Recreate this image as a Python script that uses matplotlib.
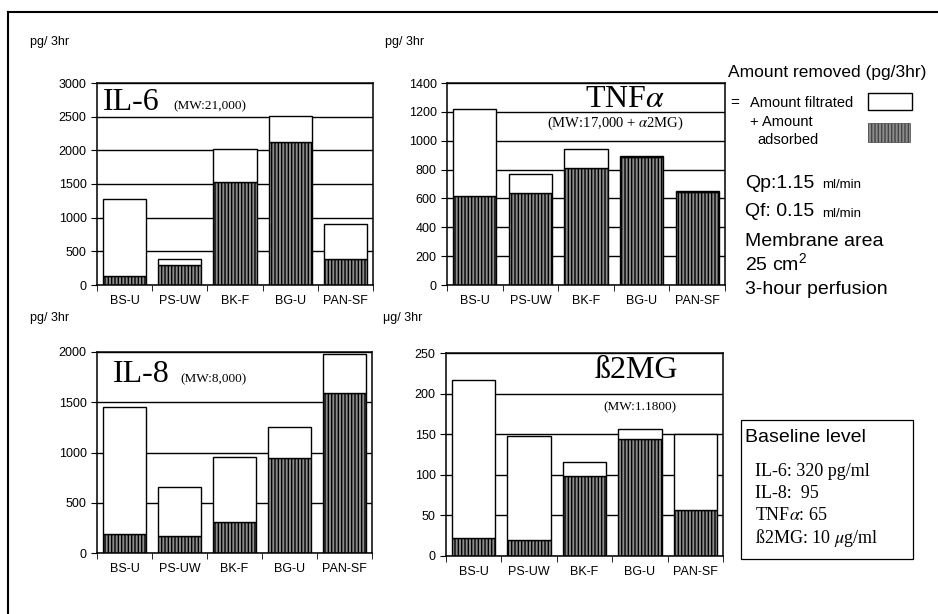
import matplotlib
matplotlib.use("Agg")
import matplotlib.pyplot as plt
from matplotlib.patches import Rectangle
from matplotlib.lines import Line2D

plt.rcParams['font.family'] = ['Liberation Sans', 'DejaVu Sans']
plt.rcParams['mathtext.fontset'] = 'stix'
plt.rcParams['hatch.color'] = '#1a1a1a'
plt.rcParams['hatch.linewidth'] = 1.0

# membranes
membranes = ['BS-U', 'PS-UW', 'BK-F', 'BG-U', 'PAN-SF']

# amount removed (total) and amount adsorbed
il6_total = [1280, 390, 2020, 2510, 900]
il6_adsorbed = [130, 290, 1530, 2120, 380]
tnf_total = [1220, 770, 945, 895, 650]
tnf_adsorbed = [615, 640, 810, 885, 645]
il8_total = [1450, 660, 955, 1250, 1980]
il8_adsorbed = [190, 170, 310, 950, 1590]
b2mg_total = [217, 148, 116, 156, 150]
b2mg_adsorbed = [22, 20, 99, 144, 57]

W, H = 938, 614
fig = plt.figure(figsize=(W / 100, H / 100), dpi=100)

HATCH_FC = '#8c8c8c'


def px(x, y):
    # pixel position -> figure fraction
    return x / W, 1 - y / H


def make_ax(x0, y0, x1, y1):
    return fig.add_axes([x0 / W, 1 - y1 / H, (x1 - x0) / W, (y1 - y0) / H])


def draw_panel(ax, total, adsorbed, ymax, step):
    xs = range(len(membranes))
    filtrated = [t - a for t, a in zip(total, adsorbed)]
    ax.bar(xs, adsorbed, width=0.78, color=HATCH_FC, edgecolor='black',
           hatch='|||||', linewidth=1, zorder=2)
    ax.bar(xs, filtrated, bottom=adsorbed, width=0.78, color='white',
           edgecolor='black', linewidth=1, zorder=2)
    ax.set_xlim(-0.5, len(membranes) - 0.5)
    ax.set_ylim(0, ymax)
    ax.set_yticks(range(0, ymax + 1, step))
    ax.yaxis.grid(True, color='black', linewidth=1)
    ax.set_axisbelow(True)
    ax.set_xticks(list(xs))
    ax.set_xticklabels(membranes, fontsize=9)
    ax.set_xticks([i - 0.5 for i in range(len(membranes) + 1)], minor=True)
    ax.tick_params(axis='x', which='major', length=0, pad=7)
    ax.tick_params(axis='x', which='minor', length=4, direction='out')
    ax.tick_params(axis='y', labelsize=9, length=4, direction='out')
    for s in ax.spines.values():
        s.set_linewidth(1.1)


ax1 = make_ax(97, 83, 373, 285)
draw_panel(ax1, il6_total, il6_adsorbed, 3000, 500)
ax1.text(0.022, 0.868, 'IL-6', family='Liberation Serif', fontsize=23,
         transform=ax1.transAxes, va='baseline')
ax1.text(0.275, 0.868, '(MW:21,000)', family='Liberation Serif', fontsize=9.5,
         transform=ax1.transAxes, va='baseline')

ax2 = make_ax(447, 83, 725, 285)
draw_panel(ax2, tnf_total, tnf_adsorbed, 1400, 200)
ax2.text(0.64, 0.881, r'TNF$\alpha$', family='Liberation Serif', fontsize=23,
         transform=ax2.transAxes, va='baseline', ha='center')
ax2.text(0.604, 0.782, r'(MW:17,000 + $\alpha$2MG)', family='Liberation Serif',
         fontsize=10.5, transform=ax2.transAxes, va='baseline', ha='center')

ax3 = make_ax(97, 352, 372, 553)
draw_panel(ax3, il8_total, il8_adsorbed, 2000, 500)
ax3.text(0.058, 0.851, 'IL-8', family='Liberation Serif', fontsize=23,
         transform=ax3.transAxes, va='baseline')
ax3.text(0.302, 0.851, '(MW:8,000)', family='Liberation Serif', fontsize=9.5,
         transform=ax3.transAxes, va='baseline')

ax4 = make_ax(446, 353, 723, 556)
draw_panel(ax4, b2mg_total, b2mg_adsorbed, 250, 50)
ax4.text(0.686, 0.877, 'ß2MG', family='Liberation Serif', fontsize=23,
         transform=ax4.transAxes, va='baseline', ha='center')
ax4.text(0.70, 0.719, '(MW:1.1800)', family='Liberation Serif', fontsize=9.5,
         transform=ax4.transAxes, va='baseline', ha='center')

# unit labels
fig.text(*px(30, 42), 'pg/ 3hr', fontsize=9, va='center')
fig.text(*px(385, 42), 'pg/ 3hr', fontsize=9, va='center')
fig.text(*px(30, 318), 'pg/ 3hr', fontsize=9, va='center')
fig.text(*px(383, 318), 'μg/ 3hr', fontsize=9, va='center')

# legend / conditions
fig.text(*px(728, 73), 'Amount removed (pg/3hr)', fontsize=12.5, va='center')
fig.text(*px(730, 103), '=', fontsize=11, va='center')
fig.text(*px(750, 103), 'Amount filtrated', fontsize=10.5, va='center')
fig.text(*px(750, 122), '+ Amount', fontsize=10.5, va='center')
fig.text(*px(757, 140), 'adsorbed', fontsize=10.5, va='center')
fig.add_artist(Rectangle(px(868, 110), 44 / W, 17 / H, transform=fig.transFigure,
                         facecolor='white', edgecolor='black', linewidth=1))
fig.add_artist(Rectangle(px(868, 142), 42 / W, 19 / H, transform=fig.transFigure,
                         facecolor=HATCH_FC, edgecolor='#444444', hatch='|||||',
                         linewidth=0.5))

fig.text(*px(745, 183), 'Qp:1.15', fontsize=14, va='center')
fig.text(*px(822, 185), 'ml/min', fontsize=9.5, va='center')
fig.text(*px(745, 212), 'Qf: 0.15', fontsize=14, va='center')
fig.text(*px(822, 214), 'ml/min', fontsize=9.5, va='center')
fig.text(*px(745, 242), 'Membrane area', fontsize=14, va='center')
fig.text(*px(745, 264), r'25 cm$^\mathregular{2}$', fontsize=14, va='center')
fig.text(*px(745, 290), '3-hour perfusion', fontsize=14, va='center')

# baseline level box
fig.add_artist(Rectangle(px(741, 559), 172 / W, 139 / H, transform=fig.transFigure,
                         facecolor='none', edgecolor='black', linewidth=0.9))
fig.text(*px(745, 438), 'Baseline level', fontsize=14, va='center')
fig.text(*px(755, 471), 'IL-6: 320 pg/ml', family='Liberation Serif', fontsize=13,
         va='center')
fig.text(*px(755, 493), 'IL-8:  95', family='Liberation Serif', fontsize=13,
         va='center')
fig.text(*px(755, 515), r'TNF$\alpha$: 65', family='Liberation Serif', fontsize=13,
         va='center')
fig.text(*px(755, 538), r'ß2MG: 10 $\mu$g/ml', family='Liberation Serif', fontsize=13,
         va='center')

# outer frame of the scanned figure
fig.add_artist(Line2D([8 / W, 1], [1 - 12 / H, 1 - 12 / H], color='black',
                      linewidth=1.5, transform=fig.transFigure))
fig.add_artist(Line2D([8 / W, 8 / W], [1 - 12 / H, 0], color='black',
                      linewidth=1.5, transform=fig.transFigure))

fig.savefig('out.png', dpi=100)
